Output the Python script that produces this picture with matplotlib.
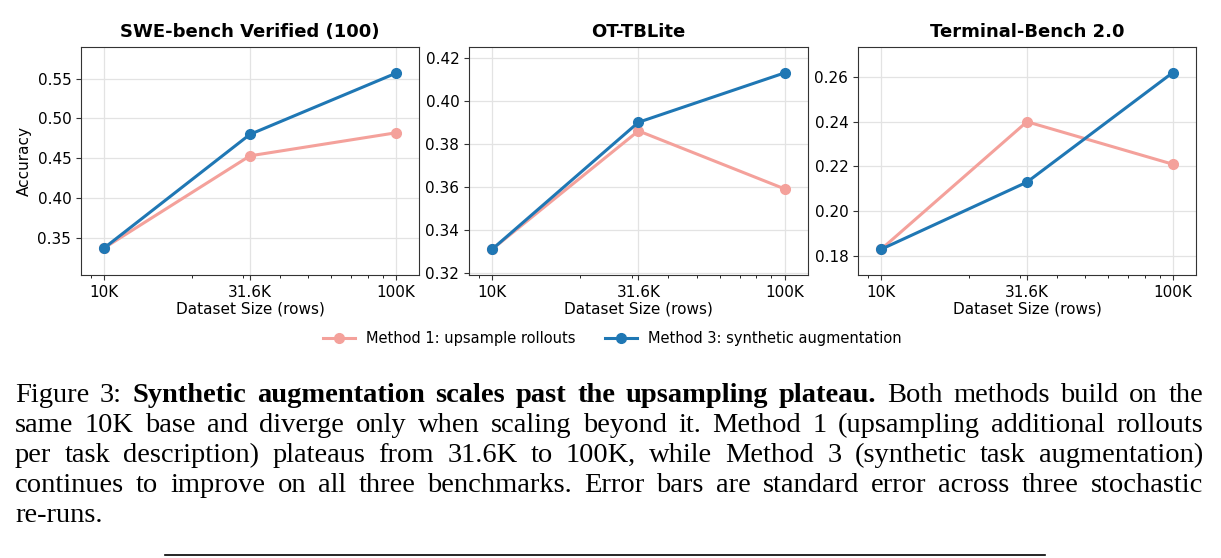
import numpy as np
import matplotlib
matplotlib.use("Agg")
import matplotlib.pyplot as plt

plt.rcParams['font.family'] = ['DejaVu Sans']

# data
sizes = [10000, 31600, 100000]
size_labels = ["10K", "31.6K", "100K"]
titles = ["SWE-bench Verified (100)", "OT-TBLite", "Terminal-Bench 2.0"]
method1 = [
    [0.337, 0.453, 0.482],
    [0.331, 0.386, 0.359],
    [0.183, 0.240, 0.221],
]
method3 = [
    [0.337, 0.480, 0.557],
    [0.331, 0.390, 0.413],
    [0.183, 0.213, 0.262],
]
ylims = [(0.303, 0.590), (0.319, 0.425), (0.1715, 0.2734)]
yticks = [
    [0.35, 0.40, 0.45, 0.50, 0.55],
    [0.32, 0.34, 0.36, 0.38, 0.40, 0.42],
    [0.18, 0.20, 0.22, 0.24, 0.26],
]
label1 = "Method 1: upsample rollouts"
label3 = "Method 3: synthetic augmentation"

caption_lines = [
    [("Figure 3: ", "normal"),
     ("Synthetic augmentation scales past the upsampling plateau.", "bold"),
     (" Both methods build on the", "normal")],
    [("same 10K base and diverge only when scaling beyond it. Method 1 (upsampling additional rollouts", "normal")],
    [("per task description) plateaus from 31.6K to 100K, while Method 3 (synthetic task augmentation)", "normal")],
    [("continues to improve on all three benchmarks. Error bars are standard error across three stochastic", "normal")],
    [("re-runs.", "normal")],
]

c1 = "#f4a19b"
c3 = "#1f77b4"

W, H = 1221, 558
fig = plt.figure(figsize=(W / 100, H / 100), dpi=100)

axes_px = [(81, 419), (469, 808), (858, 1196)]
top_px, bot_px = 47, 275

for i in range(3):
    x0, x1 = axes_px[i]
    ax = fig.add_axes([x0 / W, 1 - bot_px / H, (x1 - x0) / W, (bot_px - top_px) / H])
    ax.plot(sizes, method1[i], "-o", color=c1, lw=2.2, ms=7, label=label1, zorder=3)
    ax.plot(sizes, method3[i], "-o", color=c3, lw=2.2, ms=7, label=label3, zorder=4)
    ax.set_xscale("log")
    ax.set_xlim(8330, 120000)
    ax.set_xticks(sizes)
    ax.set_xticklabels(size_labels)
    ax.set_ylim(*ylims[i])
    ax.set_yticks(yticks[i])
    ax.set_yticklabels([f"{v:.2f}" for v in yticks[i]])
    ax.grid(True, color="#e3e3e3", lw=0.9)
    ax.set_axisbelow(True)
    ax.tick_params(labelsize=11, color="#333333")
    for s in ax.spines.values():
        s.set_color("#333333")
    ax.set_title(titles[i], fontsize=13, fontweight="bold", pad=7)
    ax.set_xlabel("Dataset Size (rows)", fontsize=11, labelpad=1)
    if i == 0:
        ax.set_ylabel("Accuracy", fontsize=11)
        handles, labels = ax.get_legend_handles_labels()

fig.legend(handles, labels, loc="center", bbox_to_anchor=(612 / W, 1 - 339 / H),
           ncol=2, frameon=False, fontsize=10.5, columnspacing=2.0, handlelength=2.2,
           handletextpad=0.75)

# caption, justified line by line
renderer = fig.canvas.get_renderer()
left, right = 15, 1203
fsize = 20.5
line_y = [395, 425, 455, 485, 515]
for li, parts in enumerate(caption_lines):
    words = []
    for text, weight in parts:
        for w in text.split():
            words.append((w, weight))
    widths = []
    for w, weight in words:
        t = fig.text(0, 0, w, fontsize=fsize, family="Liberation Serif", fontweight=weight)
        widths.append(t.get_window_extent(renderer).width)
        t.remove()
    if li < len(caption_lines) - 1:
        gap = (right - left - sum(widths)) / (len(words) - 1)
    else:
        gap = 0
    x = left
    for (w, weight), wd in zip(words, widths):
        fig.text(x / W, 1 - line_y[li] / H, w, fontsize=fsize, family="Liberation Serif",
                 fontweight=weight, va="center", ha="left")
        x += wd + gap

fig.add_artist(plt.Line2D([165 / W, 1045 / W], [1 - 555 / H, 1 - 555 / H], color="black", lw=1.2))

fig.savefig("out.png", dpi=100)
